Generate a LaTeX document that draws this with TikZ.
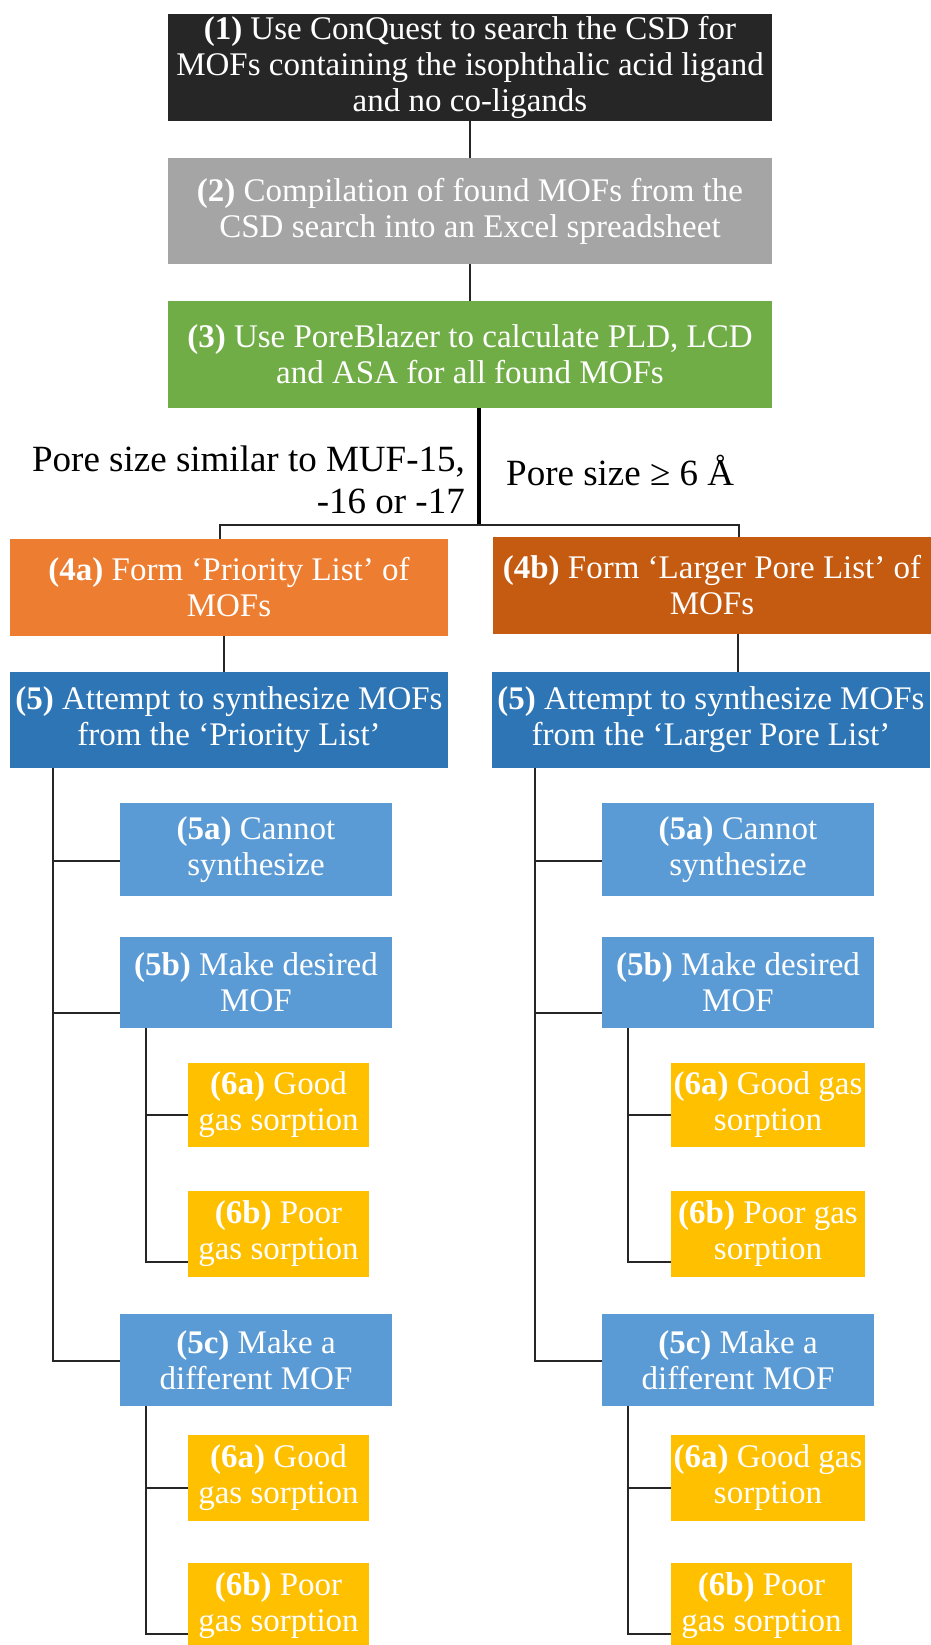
\documentclass[tikz,border=0pt]{standalone}
\usepackage{fontspec}
\setmainfont{Liberation Serif}
\usetikzlibrary{calc}
\definecolor{cBlack}{HTML}{262626}
\definecolor{cGrey}{HTML}{A5A5A5}
\definecolor{cGreen}{HTML}{70AD47}
\definecolor{cOrange}{HTML}{ED7D31}
\definecolor{cRust}{HTML}{C55A11}
\definecolor{cBlue}{HTML}{2E75B6}
\definecolor{cSky}{HTML}{5B9BD5}
\definecolor{cGold}{HTML}{FFC000}
\definecolor{cLine}{HTML}{262626}
\begin{document}
\begin{tikzpicture}[x=1pt,y=-1pt,
  box/.style={inner sep=0pt, align=center, text=white,
    font=\fontsize{33}{36}\selectfont},
  wide/.style={box, minimum width=604pt},
  half/.style={box, minimum width=438pt},
  mid/.style={box, fill=cSky, minimum width=272pt},
  leaf/.style={box, fill=cGold, minimum height=86pt},
  link/.style={draw=cLine, line width=2pt},
  trunk/.style={draw=black, line width=3.5pt},
  lab/.style={inner sep=0pt, font=\fontsize{37}{42}\selectfont}]
\useasboundingbox (0,0) rectangle (930,1645);

% top chain
\node[wide, fill=cBlack, minimum height=107pt] (s1) at (470,67.5)
  {\textbf{(1)} Use ConQuest to search the CSD for\\MOFs containing the isophthalic acid ligand\\and no co-ligands};
\node[wide, fill=cGrey, minimum height=106pt] (s2) at (470,211)
  {\textbf{(2)} Compilation of found MOFs from the\\CSD search into an Excel spreadsheet};
\node[wide, fill=cGreen, minimum height=107pt] (s3) at (470,354.5)
  {\textbf{(3)} Use PoreBlazer to calculate PLD, LCD\\and ASA for all found MOFs};

% branch labels
\node[lab, anchor=east, align=right] (labL) at (465,480)
  {Pore size similar to MUF-15,\\-16 or -17};
\node[lab, anchor=west] (labR) at (506,471) {Pore size ≥ 6 Å};

% lists
\node[half, fill=cOrange, minimum height=97pt] (s4a) at (229,587.5)
  {\textbf{(4a)} Form ‘Priority List’ of\\MOFs};
\node[half, fill=cRust, minimum height=97pt] (s4b) at (712,585.5)
  {\textbf{(4b)} Form ‘Larger Pore List’ of\\MOFs};
\node[half, fill=cBlue, minimum height=96pt] (L5) at (229,720)
  {\textbf{(5)} Attempt to synthesize MOFs\\from the ‘Priority List’};
\node[half, fill=cBlue, minimum height=96pt] (R5) at (711,720)
  {\textbf{(5)} Attempt to synthesize MOFs\\from the ‘Larger Pore List’};

% left column
\node[mid, minimum height=93pt] (L5a) at (256,849.5) {\textbf{(5a)} Cannot\\synthesize};
\node[mid, minimum height=91pt] (L5b) at (256,982.5) {\textbf{(5b)} Make desired\\MOF};
\node[leaf, minimum width=181pt, minimum height=84pt] (L6a1) at (278.5,1105) {\textbf{(6a)} Good\\gas sorption};
\node[leaf, minimum width=181pt] (L6b1) at (278.5,1234) {\textbf{(6b)} Poor\\gas sorption};
\node[mid, minimum height=92pt] (L5c) at (256,1360) {\textbf{(5c)} Make a\\different MOF};
\node[leaf, minimum width=181pt] (L6a2) at (278.5,1478) {\textbf{(6a)} Good\\gas sorption};
\node[leaf, minimum width=181pt] (L6b2) at (278.5,1606) {\textbf{(6b)} Poor\\gas sorption};

% right column
\node[mid, minimum height=93pt] (R5a) at (738,849.5) {\textbf{(5a)} Cannot\\synthesize};
\node[mid, minimum height=91pt] (R5b) at (738,982.5) {\textbf{(5b)} Make desired\\MOF};
\node[leaf, minimum width=194pt, minimum height=84pt] (R6a1) at (768,1105) {\textbf{(6a)} Good gas\\sorption};
\node[leaf, minimum width=194pt] (R6b1) at (768,1234) {\textbf{(6b)} Poor gas\\sorption};
\node[mid, minimum height=92pt] (R5c) at (738,1360) {\textbf{(5c)} Make a\\different MOF};
\node[leaf, minimum width=194pt] (R6a2) at (768,1478) {\textbf{(6a)} Good gas\\sorption};
\node[leaf, minimum width=181pt] (R6b2) at (761.5,1606) {\textbf{(6b)} Poor\\gas sorption};

% guide coordinates for the vertical rails
\coordinate (fork) at (479,525);
\coordinate (barL) at (220,525);
\coordinate (barR) at (739,525);
\coordinate (dL) at (224,0);
\coordinate (dR) at (738,0);
\coordinate (tL) at (53,0);
\coordinate (uL) at (146,0);
\coordinate (tR) at (535,0);
\coordinate (uR) at (628,0);

% attachment points on the left sides of the boxes
\foreach \side in {L,R}{
  \coordinate (a\side5a) at ([yshift=-11.5pt]\side5a.west);
  \coordinate (a\side5b) at ([yshift=-30.5pt]\side5b.west);
  \coordinate (a\side5c) at ([yshift=-1pt]\side5c.west);
  \coordinate (a\side6a1) at ([yshift=-10pt]\side6a1.west);
  \coordinate (a\side6b1) at ([yshift=-28pt]\side6b1.west);
  \coordinate (a\side6a2) at ([yshift=-10pt]\side6a2.west);
  \coordinate (a\side6b2) at ([yshift=-28pt]\side6b2.west);
}

% connectors
\draw[link] (s1.south) -- (s2.north);
\draw[link] (s2.south) -- (s3.north);
\draw[trunk] (s3.south -| fork) -- (fork);
\draw[link] (s4a.north -| barL) |- (barR) -- (s4b.north -| barR);
\draw[link] (s4a.south -| dL) -- (L5.north -| dL);
\draw[link] (s4b.south -| dR) -- (R5.north -| dR);

\draw[link] (L5.south -| tL) |- (aL5c);
\draw[link] (aL5a -| tL) -- (aL5a);
\draw[link] (aL5b -| tL) -- (aL5b);
\draw[link] (L5b.south -| uL) |- (aL6b1);
\draw[link] (aL6a1 -| uL) -- (aL6a1);
\draw[link] (L5c.south -| uL) |- (aL6b2);
\draw[link] (aL6a2 -| uL) -- (aL6a2);

\draw[link] (R5.south -| tR) |- (aR5c);
\draw[link] (aR5a -| tR) -- (aR5a);
\draw[link] (aR5b -| tR) -- (aR5b);
\draw[link] (R5b.south -| uR) |- (aR6b1);
\draw[link] (aR6a1 -| uR) -- (aR6a1);
\draw[link] (R5c.south -| uR) |- (aR6b2);
\draw[link] (aR6a2 -| uR) -- (aR6a2);
\end{tikzpicture}
\end{document}
